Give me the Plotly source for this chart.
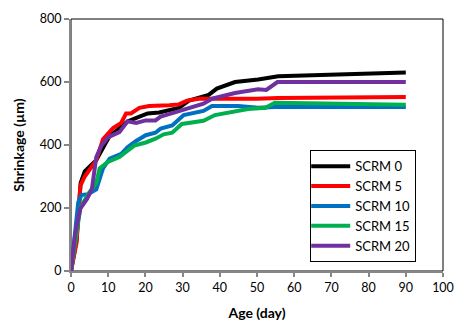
import plotly.graph_objects as go

# Shrinkage measurements (µm) versus age (days) for each SCRM replacement level
age_0 = [0, 1.5, 2.6, 3.7, 6.8, 8.6, 10.4, 12.6, 15.2, 18.4, 20.6, 23.7, 26.4, 29, 31.7, 37, 39.2, 44.1, 50.3, 55.7, 90]
scrm_0 = [0, 100, 280, 316, 352, 393, 429, 449, 475, 490, 500, 503, 510, 518, 541, 559, 579, 600, 608, 618, 630]

age_5 = [0, 1.5, 2.5, 3.7, 6.8, 8.6, 11.3, 13.5, 14.8, 16.1, 18.4, 21, 26.4, 29, 31.2, 34.4, 50, 55.7, 90]
scrm_5 = [0, 90, 270, 300, 352, 418, 454, 470, 500, 500, 518, 524, 526, 529, 541, 547, 547, 549, 552]

age_10 = [0, 1.95, 2.8, 4.6, 6.8, 8.6, 10.4, 13.5, 15.2, 17.5, 20.1, 22.7, 24.1, 27.2, 30.3, 35.6, 37.9, 45, 50.3, 54.8, 90]
scrm_10 = [0, 218, 241, 244, 259, 326, 357, 372, 393, 413, 431, 439, 452, 462, 495, 508, 524, 524, 518, 521, 521]

age_15 = [0, 2.5, 4.6, 6.8, 7.7, 9.9, 13, 14.8, 17, 20.1, 22.7, 24.9, 27.2, 29.8, 35.6, 38.7, 43.2, 47.6, 52.3, 54.8, 90]
scrm_15 = [0, 200, 244, 280, 326, 346, 362, 378, 398, 408, 420, 434, 439, 467, 477, 495, 506, 514, 518, 534, 528]

age_20 = [0, 1.1, 2.5, 4.3, 5.6, 6.8, 8.2, 9.9, 13, 15.2, 17.5, 20.1, 22.7, 24.1, 27.7, 30.8, 35.6, 37.9, 44.1, 50.3, 52.5, 55.5, 90]
scrm_20 = [0, 116, 198, 229, 259, 362, 398, 424, 441, 475, 470, 478, 478, 490, 503, 515, 531, 547, 565, 577, 575, 600, 600]

series = [
    ("SCRM 0", age_0, scrm_0, "#000000"),
    ("SCRM 5", age_5, scrm_5, "#ff0000"),
    ("SCRM 10", age_10, scrm_10, "#0070c0"),
    ("SCRM 15", age_15, scrm_15, "#00b050"),
    ("SCRM 20", age_20, scrm_20, "#7030a0"),
]

x_ticks = list(range(0, 101, 10))
y_ticks = [0, 200, 400, 600, 800]

fig = go.Figure()
for name, x, y, color in series:
    fig.add_trace(go.Scatter(x=x, y=y, name=name, mode="lines",
                             line=dict(color=color, width=4)))

font_family = "Lato, 'Open Sans', sans-serif"

fig.update_layout(
    width=465, height=334,
    margin=dict(l=71, r=19, t=11, b=63),
    paper_bgcolor="white", plot_bgcolor="white",
    font=dict(family=font_family, size=12, color="black"),
    showlegend=True,
    legend=dict(x=0.643, y=0.035, xanchor="left", yanchor="bottom",
                bordercolor="black", borderwidth=1, bgcolor="white",
                font=dict(size=13), tracegroupgap=0,
                itemwidth=40, indentation=-6),
    xaxis=dict(range=[0, 100], tickvals=x_ticks, showgrid=False, zeroline=False,
               showline=True, linecolor="#868686", linewidth=2,
               ticks="outside", ticklen=4, tickcolor="#868686", tickwidth=2,
               tickfont=dict(size=12.5),
               title=dict(text="<b>Age (day)</b>", font=dict(size=14), standoff=14)),
    yaxis=dict(range=[0, 800], tickvals=y_ticks, showgrid=False, zeroline=False,
               showline=True, linecolor="#868686", linewidth=2,
               ticks="outside", ticklen=5, tickcolor="#868686", tickwidth=2,
               tickfont=dict(size=12.5),
               title=dict(text="<b>Shrinkage (µm)</b>", font=dict(size=14), standoff=12)),
    shapes=[dict(type="rect", xref="paper", yref="paper", x0=0, x1=1, y0=0, y1=1,
                 line=dict(color="black", width=1), layer="below")],
)

fig.write_html("out.html")
